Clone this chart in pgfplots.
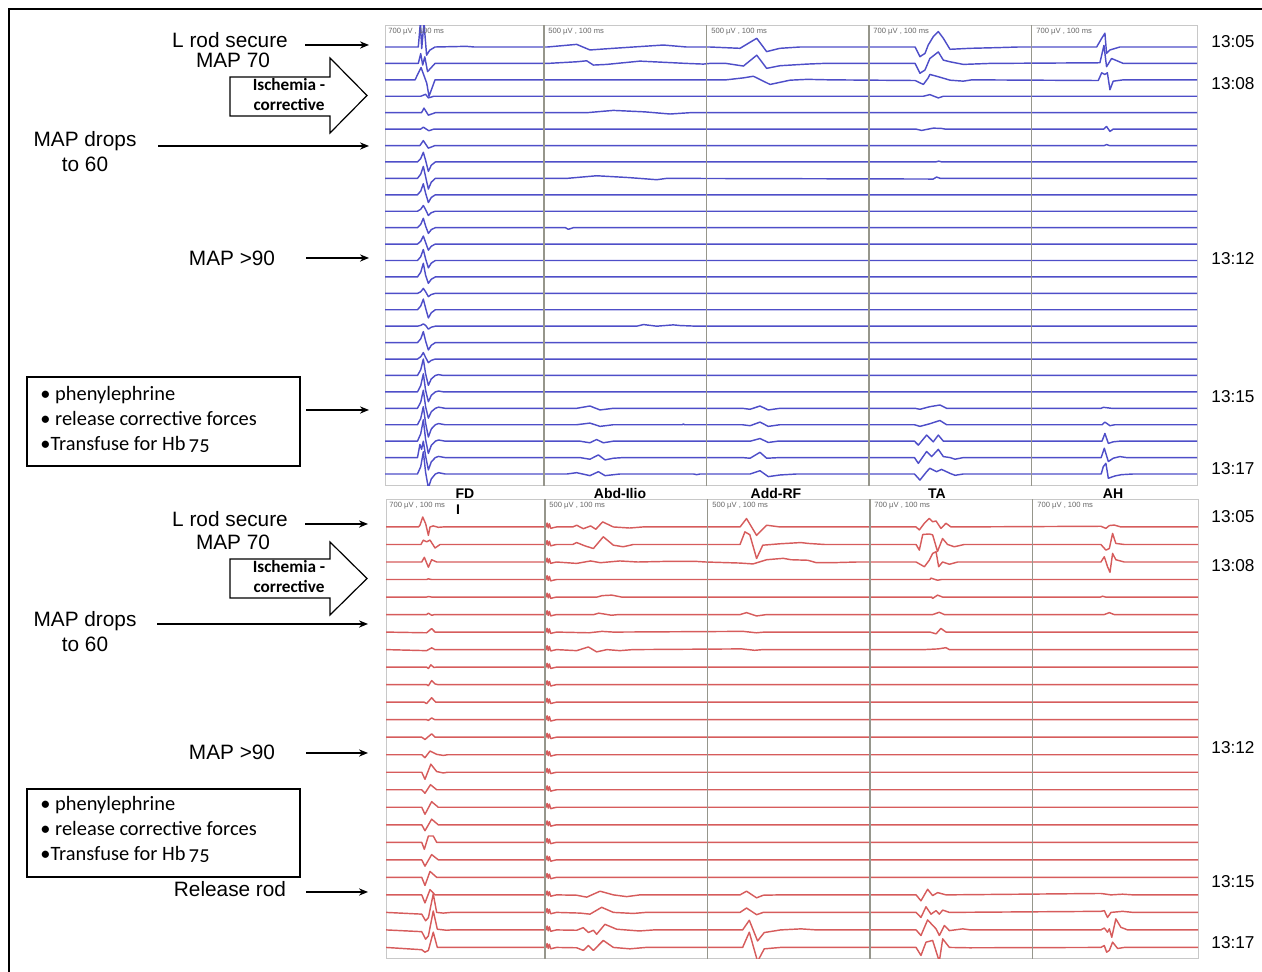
\documentclass[border=0pt]{standalone}
\usepackage{pgfplots}
\pgfplotsset{compat=1.18}
\usetikzlibrary{arrows.meta}
\usepackage{fontspec}
\setmainfont{Liberation Sans}
\newfontfamily\cali{Carlito}
\definecolor{tblue}{RGB}{78,78,200}
\definecolor{tred}{RGB}{214,92,92}
\definecolor{divg}{RGB}{150,150,140}
\definecolor{boxg}{RGB}{200,200,200}
\tikzset{
  bt/.style={line width=0.72pt, draw=tblue, line join=round, line cap=round},
  rt/.style={line width=0.72pt, draw=tred, line join=round, line cap=round},
  dv/.style={line width=0.8pt, draw=divg},
  ar/.style={line width=0.65pt, -{Stealth[length=4.5pt,width=3.6pt]}},
}
\pgfplotsset{panel/.style={scale only axis, anchor=north west, width=406pt, height=230pt,
  xmin=0, xmax=5, xtick=\empty, ytick=\empty, axis line style={draw=boxg, line width=0.5pt}}}
\begin{document}
\begin{tikzpicture}
% ================= TOP PANEL (blue) =================
\begin{axis}[panel, at={(192.5pt,473pt)}, ymin=-26.73, ymax=1.28]
\addplot[bt] coordinates {(0,0) (0.205,0) (0.218,1.5) (0.226,-0.1) (0.24,1.5) (0.256,-0.5) (0.275,-0.2) (0.308,0) (0.5,0.04) (0.55,0)
 (1.0,0) (1.18,0.16) (1.262,-0.18) (1.406,-0.08) (1.714,0.12) (1.857,0) (2.0,0)
 (2.186,-0.08) (2.289,0.53) (2.35,-0.28) (2.432,-0.08) (2.555,0)
 (3.264,0) (3.294,-0.59) (3.325,-0.39) (3.345,0.12) (3.376,0.63) (3.407,0.94) (3.438,0.53) (3.479,-0.14) (3.602,-0.08) (3.766,-0.04) (3.9,0)
 (4.382,0) (4.413,0.53) (4.433,0.84) (4.443,-0.39) (4.464,-0.18) (4.525,0) (5,0)};
\addplot[bt] coordinates {(0,-1) (0.205,-1) (0.22,-0.4) (0.232,-1.1) (0.245,-0.6) (0.262,-1.5) (0.308,-1)
 (1.0,-1) (1.18,-0.9) (1.242,-0.84) (1.283,-1.1) (1.365,-1.06) (1.57,-0.86) (1.857,-1) (1.96,-1.04) (2.0,-1)
 (2.1,-1) (2.207,-1.16) (2.289,-0.5) (2.35,-1.3) (2.432,-1.14) (2.6,-1.04) (2.7,-1)
 (3.264,-1) (3.294,-1.6) (3.325,-1.4) (3.355,-0.7) (3.407,-0.3) (3.438,-0.8) (3.479,-0.9) (3.561,-1.06) (3.725,-1)
 (4.402,-0.96) (4.427,0.1) (4.443,-1.2) (4.474,-0.7) (4.546,-1) (5,-1)};
\addplot[bt] coordinates {(0,-2) (0.185,-2) (0.222,-1.25) (0.257,-2.2) (0.271,-3.0) (0.308,-2)
 (2.1,-2) (2.207,-1.88) (2.268,-1.78) (2.371,-2.28) (2.494,-2.02) (2.6,-1.97) (2.74,-2)
 (3.264,-2.04) (3.315,-2.28) (3.345,-1.88) (3.355,-1.67) (3.396,-1.78) (3.438,-1.9) (3.479,-2.02) (3.561,-2.08) (3.613,-2)
 (4.392,-2.04) (4.413,-1.57) (4.433,-1.67) (4.448,-1.57) (4.464,-2.6) (4.484,-2.08) (4.546,-2) (5,-2)};
\addplot[bt] coordinates {(0,-3) (0.22,-3) (0.25,-2.88) (0.267,-3.1) (0.3,-3) (3.315,-3) (3.355,-2.9) (3.407,-3.1) (3.438,-3) (5,-3)};
\addplot[bt] coordinates {(0,-4) (0.225,-4) (0.24,-3.72) (0.267,-4.15) (0.31,-4) (1.242,-4) (1.406,-3.86) (1.6,-3.95) (1.755,-4.08) (1.878,-4) (5,-4)};
\addplot[bt] coordinates {(0,-5) (0.22,-5) (0.236,-4.88) (0.27,-5.1) (0.3,-5) (3.27,-5) (3.304,-5.08) (3.376,-4.94) (3.427,-4.96) (3.45,-5)
 (4.425,-5) (4.443,-4.84) (4.464,-5.14) (4.484,-5) (5,-5)};
\addplot[bt] coordinates {(0,-6) (0.215,-6) (0.236,-5.7) (0.267,-6.16) (0.308,-6) (4.43,-6) (4.443,-5.94) (4.46,-6) (5,-6)};
\addplot[bt] coordinates {(0,-7) (0.2,-7) (0.22,-6.79) (0.236,-6.41) (0.25,-6.9) (0.267,-7.57) (0.285,-7.2) (0.31,-7) (3.39,-7) (3.41,-6.95) (3.43,-7) (5,-7)};
\addplot[bt] coordinates {(0,-8) (0.2,-8) (0.22,-7.74) (0.236,-7.27) (0.25,-7.9) (0.267,-8.65) (0.285,-8.23) (0.31,-8)
 (1.119,-8) (1.303,-7.84) (1.5,-7.95) (1.673,-8.08) (1.734,-8) (3.376,-8.04) (3.396,-7.92) (3.42,-8) (5,-8)};
\addplot[bt] coordinates {(0,-9) (0.2,-9) (0.22,-8.77) (0.236,-8.33) (0.25,-8.9) (0.267,-9.47) (0.285,-9.16) (0.31,-9) (5,-9)};
\addplot[bt] coordinates {(0,-10) (0.2,-10) (0.22,-9.88) (0.236,-9.65) (0.25,-9.9) (0.267,-10.26) (0.285,-10.09) (0.31,-10) (5,-10)};
\addplot[bt] coordinates {(0,-11) (0.2,-11) (0.22,-10.8) (0.236,-10.43) (0.25,-10.9) (0.267,-11.35) (0.285,-11.12) (0.31,-11) (1.11,-11) (1.129,-11.1) (1.16,-11) (5,-11)};
\addplot[bt] coordinates {(0,-12) (0.2,-12) (0.22,-11.83) (0.236,-11.51) (0.25,-11.9) (0.267,-12.37) (0.285,-12.13) (0.31,-12) (5,-12)};
\addplot[bt] coordinates {(0,-13) (0.2,-13) (0.22,-12.77) (0.236,-12.33) (0.25,-12.9) (0.267,-13.45) (0.285,-13.16) (0.31,-13) (5,-13)};
\addplot[bt] coordinates {(0,-14) (0.2,-14) (0.22,-13.71) (0.236,-13.17) (0.25,-13.9) (0.267,-14.39) (0.285,-14.14) (0.31,-14) (5,-14)};
\addplot[bt] coordinates {(0,-15) (0.2,-15) (0.22,-14.9) (0.236,-14.7) (0.25,-14.9) (0.267,-15.2) (0.285,-15.07) (0.31,-15) (5,-15)};
\addplot[bt] coordinates {(0,-16) (0.2,-16) (0.22,-15.77) (0.236,-15.35) (0.25,-15.9) (0.267,-16.5) (0.285,-16.18) (0.31,-16) (5,-16)};
\addplot[bt] coordinates {(0,-17) (0.2,-17) (0.22,-16.95) (0.236,-16.86) (0.25,-16.95) (0.267,-17.18) (0.285,-17.06) (0.31,-17)
 (1.55,-17) (1.591,-16.9) (1.673,-17) (1.775,-16.92) (1.816,-16.96) (1.919,-17) (5,-17)};
\addplot[bt] coordinates {(0,-18) (0.2,-18) (0.22,-17.77) (0.236,-17.33) (0.25,-17.9) (0.267,-18.45) (0.285,-18.16) (0.31,-18) (5,-18)};
\addplot[bt] coordinates {(0,-19) (0.2,-19) (0.22,-18.86) (0.236,-18.61) (0.25,-18.9) (0.267,-19.22) (0.285,-19.08) (0.31,-19) (5,-19)};
\addplot[bt] coordinates {(0,-20) (0.2,-20) (0.22,-19.65) (0.236,-19.0) (0.25,-19.9) (0.267,-20.6) (0.285,-20.21) (0.31,-20) (0.33,-19.95) (0.36,-20) (5,-20)};
\addplot[bt] coordinates {(0,-21) (0.2,-21) (0.22,-20.62) (0.236,-19.9) (0.25,-20.9) (0.267,-21.6) (0.285,-21.21) (0.31,-21) (0.33,-20.95) (0.36,-21) (5,-21)};
\addplot[bt] coordinates {(0,-22) (0.2,-22) (0.22,-21.62) (0.236,-20.9) (0.25,-21.9) (0.267,-22.6) (0.285,-22.21) (0.31,-22) (0.33,-21.93) (0.37,-22)
 (1.18,-22) (1.262,-21.86) (1.324,-22.1) (1.406,-22) (2.2,-22) (2.248,-22.06) (2.309,-21.86) (2.36,-22.1) (2.432,-22)
 (3.264,-22) (3.294,-22.06) (3.355,-21.9) (3.417,-21.8) (3.458,-22) (4.41,-22) (4.423,-21.94) (4.474,-22) (5,-22)};
\addplot[bt] coordinates {(0,-23) (0.2,-23) (0.22,-22.62) (0.236,-21.9) (0.25,-22.9) (0.267,-23.75) (0.285,-23.26) (0.31,-23) (0.33,-22.93) (0.37,-23)
 (1.18,-23) (1.262,-22.9) (1.324,-23.1) (1.406,-23) (1.83,-23) (1.837,-22.96) (1.845,-23)
 (2.2,-23) (2.248,-23.06) (2.309,-22.84) (2.36,-23.1) (2.432,-23)
 (3.26,-23) (3.294,-23.1) (3.355,-22.94) (3.417,-22.74) (3.458,-23) (4.415,-23) (4.433,-22.84) (4.464,-23.06) (4.494,-23) (5,-23)};
\addplot[bt] coordinates {(0,-24) (0.2,-24) (0.22,-23.55) (0.236,-22.7) (0.25,-23.9) (0.267,-24.75) (0.285,-24.26) (0.31,-24) (0.33,-23.93) (0.37,-24)
 (1.2,-24) (1.262,-24.1) (1.303,-23.9) (1.344,-24.1) (1.406,-24) (2.25,-24) (2.309,-23.84) (2.36,-24.08) (2.42,-24)
 (3.26,-24) (3.284,-24.24) (3.335,-23.63) (3.376,-24.04) (3.407,-23.63) (3.438,-24) (3.499,-24)
 (4.415,-24) (4.433,-23.53) (4.454,-24.14) (4.484,-24.04) (4.525,-24) (5,-24)};
\addplot[bt] coordinates {(0,-25) (0.2,-25) (0.215,-24.2) (0.225,-24.5) (0.236,-24.0) (0.25,-24.9) (0.267,-25.75) (0.285,-25.26) (0.31,-25) (0.33,-24.93) (0.37,-25)
 (1.2,-25) (1.262,-25.1) (1.314,-24.84) (1.355,-25.14) (1.406,-25.04) (1.468,-25)
 (2.2,-25) (2.248,-25.04) (2.309,-24.68) (2.35,-25.04) (2.432,-25)
 (3.26,-25) (3.284,-25.35) (3.335,-24.63) (3.366,-24.94) (3.407,-24.5) (3.438,-24.94) (3.479,-25) (3.51,-25.1) (3.561,-25)
 (4.41,-25) (4.429,-24.43) (4.454,-25.24) (4.484,-25.04) (4.525,-24.94) (4.566,-25) (5,-25)};
\addplot[bt] coordinates {(0,-26) (0.2,-26) (0.22,-25.55) (0.236,-24.65) (0.25,-25.9) (0.267,-26.85) (0.285,-26.3) (0.31,-26) (0.33,-25.92) (0.37,-26)
 (1.12,-26) (1.18,-25.92) (1.262,-26.1) (1.314,-25.86) (1.355,-26.1) (1.447,-26) (1.9,-26) (1.919,-26.04) (1.94,-26)
 (2.2,-26) (2.248,-26) (2.309,-25.8) (2.36,-26.16) (2.432,-26.06) (2.535,-26)
 (3.26,-26) (3.294,-26.37) (3.335,-25.86) (3.355,-25.65) (3.396,-25.86) (3.427,-25.72) (3.479,-25.96) (3.51,-26.08) (3.561,-26)
 (4.41,-26) (4.423,-25.55) (4.439,-25.35) (4.454,-26.26) (4.494,-26.12) (4.535,-26.04) (4.607,-26) (5,-26)};
\addplot[dv] coordinates {(0.98,2) (0.98,-28)};
\addplot[dv] coordinates {(1.98,2) (1.98,-28)};
\addplot[dv] coordinates {(2.98,2) (2.98,-28)};
\addplot[dv] coordinates {(3.98,2) (3.98,-28)};
\end{axis}
% ================= BOTTOM PANEL (red) =================
\begin{axis}[panel, at={(193pt,236pt)}, height=229.5pt, ymin=-24.66, ymax=1.54]
\addplot[rt] coordinates {(0,0) (0.2,0) (0.209,0.1) (0.226,0.57) (0.244,0.19) (0.261,-0.48) (0.271,0) (0.291,0.06) (0.322,-0.02) (0.35,0)
 (0.985,0) (0.992,0.22) (0.999,-0.05) (1.006,0.18) (1.014,-0.08) (1.03,-0.04) (1.05,0)
 (1.15,0) (1.174,0.1) (1.215,-0.1) (1.26,0.06) (1.292,-0.13) (1.334,0.29) (1.4,0) (1.5,-0.06) (1.58,0)
 (2.15,0) (2.18,0) (2.22,0.48) (2.282,-0.48) (2.344,0.1) (2.426,0)
 (3.264,0) (3.284,-0.17) (3.315,0.21) (3.345,0.49) (3.366,0.3) (3.387,0.34) (3.417,-0.08) (3.448,0.21) (3.479,0)
 (4.402,0.04) (4.433,-0.08) (4.454,0.08) (4.484,0.11) (4.525,0) (5,0)};
\addplot[rt] coordinates {(0,-1) (0.215,-1) (0.23,-0.75) (0.25,-0.85) (0.271,-0.75) (0.302,-1.2) (0.333,-1)
 (0.985,-1) (0.992,-0.78) (0.999,-1.05) (1.006,-0.82) (1.014,-1.08) (1.03,-1.04) (1.05,-1)
 (1.15,-1) (1.174,-0.89) (1.225,-1.08) (1.277,-1.23) (1.338,-0.56) (1.4,-1.04) (1.461,-1.13) (1.523,-1)
 (2.15,-1) (2.18,-1) (2.21,-0.28) (2.24,-0.44) (2.282,-1.8) (2.32,-1.04) (2.426,-0.96) (2.555,-0.89) (2.6,-0.94) (2.7,-1)
 (3.264,-1) (3.284,-1.32) (3.305,-0.43) (3.345,-0.4) (3.366,-0.45) (3.396,-1.4) (3.427,-0.66) (3.458,-1) (3.499,-1.13) (3.561,-1)
 (4.402,-1) (4.433,-1.32) (4.454,-1.23) (4.474,-0.37) (4.494,-0.94) (4.546,-1) (5,-1)};
\addplot[rt] coordinates {(0,-2) (0.22,-2) (0.236,-1.73) (0.261,-2.3) (0.281,-1.87) (0.312,-2)
 (0.985,-2) (0.992,-1.78) (0.999,-2.05) (1.006,-1.82) (1.014,-2.08) (1.03,-2.04) (1.05,-2)
 (1.174,-2.08) (1.26,-1.94) (1.32,-2.04) (1.44,-1.94) (1.55,-2) (1.75,-1.96) (1.9,-1.96) (1.97,-2)
 (2.18,-2.06) (2.26,-2.11) (2.344,-1.87) (2.446,-1.79) (2.494,-1.87) (2.597,-1.9) (2.65,-2.04) (2.74,-2.04) (2.9,-2)
 (3.264,-2) (3.315,-2.27) (3.345,-1.9) (3.366,-1.51) (3.387,-1.41) (3.403,-2.27) (3.427,-2) (3.469,-2.13) (3.52,-2)
 (4.402,-2) (4.423,-1.7) (4.443,-2.27) (4.458,-2.59) (4.474,-1.51) (4.494,-1.87) (4.546,-2) (5,-2)};
\addplot[rt] coordinates {(0,-3) (0.25,-3) (0.261,-2.96) (0.28,-3)
 (0.985,-3) (0.992,-2.78) (0.999,-3.05) (1.006,-2.82) (1.014,-3.08) (1.03,-3.04) (1.05,-3)
 (3.35,-3) (3.355,-2.92) (3.396,-3.04) (3.42,-3) (5,-3)};
\addplot[rt] coordinates {(0,-4) (0.25,-4) (0.262,-3.97) (0.28,-4)
 (0.985,-4) (0.992,-3.78) (0.999,-4.05) (1.006,-3.82) (1.014,-4.08) (1.03,-4.04) (1.05,-4)
 (1.3,-4) (1.33,-3.92) (1.39,-3.89) (1.45,-4) (3.36,-4) (3.366,-4.08) (3.396,-3.89) (3.427,-4) (4.4,-4) (4.413,-3.95) (4.43,-4) (5,-4)};
\addplot[rt] coordinates {(0,-5) (0.25,-5) (0.261,-4.92) (0.281,-5.04) (0.3,-5)
 (0.985,-5) (0.992,-4.78) (0.999,-5.05) (1.006,-4.82) (1.014,-5.08) (1.03,-5.04) (1.05,-5)
 (1.28,-5) (1.31,-4.92) (1.39,-5.04) (1.43,-5) (2.18,-5) (2.22,-4.89) (2.282,-5.08) (2.344,-5)
 (3.366,-5) (3.407,-4.87) (3.438,-5) (4.423,-5) (4.454,-4.89) (4.484,-5) (5,-5)};
\addplot[rt] coordinates {(0,-6) (0.25,-6.04) (0.281,-5.8) (0.302,-6)
 (0.985,-6) (0.992,-5.78) (0.999,-6.05) (1.006,-5.82) (1.014,-6.08) (1.03,-6.04) (1.05,-6)
 (1.25,-6.04) (1.33,-5.96) (1.4,-6) (2.2,-5.96) (2.28,-6.04) (2.33,-6) (3.35,-6) (3.387,-6.1) (3.417,-5.79) (3.448,-6) (5,-6)};
\addplot[rt] coordinates {(0,-7) (0.25,-7.06) (0.281,-6.9) (0.302,-7)
 (0.985,-7) (0.992,-6.78) (0.999,-7.05) (1.006,-6.82) (1.014,-7.08) (1.03,-7.04) (1.05,-7)
 (1.174,-7.06) (1.246,-6.85) (1.297,-7.13) (1.36,-7) (1.44,-7.06) (1.52,-7) (2.19,-6.96) (2.27,-7.04) (2.32,-7)
 (3.315,-7) (3.4,-6.96) (3.448,-6.89) (3.469,-7) (5,-7)};
\addplot[rt] coordinates {(0,-8) (0.25,-8) (0.261,-8.08) (0.276,-7.87) (0.295,-8.02) (0.31,-8)
 (0.985,-8) (0.992,-7.78) (0.999,-8.05) (1.006,-7.82) (1.014,-8.08) (1.03,-8.04) (1.05,-8) (5,-8)};
\addplot[rt] coordinates {(0,-9) (0.25,-9) (0.261,-9.06) (0.281,-8.77) (0.302,-8.96) (0.32,-9)
 (0.985,-9) (0.992,-8.78) (0.999,-9.05) (1.006,-8.82) (1.014,-9.08) (1.03,-9.04) (1.05,-9) (5,-9)};
\addplot[rt] coordinates {(0,-10) (0.235,-10) (0.25,-10.08) (0.281,-9.75) (0.306,-10)
 (0.985,-10) (0.992,-9.78) (0.999,-10.05) (1.006,-9.82) (1.014,-10.08) (1.03,-10.04) (1.05,-10) (5,-10)};
\addplot[rt] coordinates {(0,-11) (0.25,-11) (0.261,-11.04) (0.281,-10.9) (0.3,-11)
 (0.985,-11) (0.992,-10.78) (0.999,-11.05) (1.006,-10.82) (1.014,-11.08) (1.03,-11.04) (1.05,-11) (5,-11)};
\addplot[rt] coordinates {(0,-12) (0.22,-12) (0.24,-12.13) (0.281,-11.81) (0.302,-12)
 (0.985,-12) (0.992,-11.78) (0.999,-12.05) (1.006,-11.82) (1.014,-12.08) (1.03,-12.04) (1.05,-12) (5,-12)};
\addplot[rt] coordinates {(0,-13) (0.22,-13) (0.24,-13.17) (0.271,-12.79) (0.312,-12.98) (0.353,-13.04) (0.38,-13)
 (0.985,-13) (0.992,-12.78) (0.999,-13.05) (1.006,-12.82) (1.014,-13.08) (1.03,-13.04) (1.05,-13) (5,-13)};
\addplot[rt] coordinates {(0,-14) (0.22,-14) (0.24,-14.4) (0.276,-13.54) (0.312,-13.96) (0.353,-14.04) (0.38,-14)
 (0.985,-14) (0.992,-13.78) (0.999,-14.05) (1.006,-13.82) (1.014,-14.08) (1.03,-14.04) (1.05,-14) (5,-14)};
\addplot[rt] coordinates {(0,-15) (0.22,-15) (0.24,-15.2) (0.274,-14.71) (0.312,-15)
 (0.985,-15) (0.992,-14.78) (0.999,-15.05) (1.006,-14.82) (1.014,-15.08) (1.03,-15.04) (1.05,-15) (5,-15)};
\addplot[rt] coordinates {(0,-16) (0.22,-16) (0.24,-16.4) (0.281,-15.68) (0.322,-16)
 (0.985,-16) (0.992,-15.78) (0.999,-16.05) (1.006,-15.82) (1.014,-16.08) (1.03,-16.04) (1.05,-16) (5,-16)};
\addplot[rt] coordinates {(0,-17) (0.22,-17) (0.24,-17.34) (0.281,-16.68) (0.322,-17)
 (0.985,-17) (0.992,-16.78) (0.999,-17.05) (1.006,-16.82) (1.014,-17.08) (1.03,-17.04) (1.05,-17) (5,-17)};
\addplot[rt] coordinates {(0,-18) (0.22,-18) (0.236,-18.4) (0.261,-17.64) (0.291,-17.64) (0.312,-18)
 (0.985,-18) (0.992,-17.78) (0.999,-18.05) (1.006,-17.82) (1.014,-18.08) (1.03,-18.04) (1.05,-18) (5,-18)};
\addplot[rt] coordinates {(0,-19) (0.22,-19) (0.24,-19.36) (0.281,-18.7) (0.322,-19)
 (0.985,-19) (0.992,-18.78) (0.999,-19.05) (1.006,-18.82) (1.014,-19.08) (1.03,-19.04) (1.05,-19) (5,-19)};
\addplot[rt] coordinates {(0,-20) (0.22,-20) (0.24,-20.46) (0.271,-19.66) (0.312,-20)
 (0.985,-20) (0.992,-19.78) (0.999,-20.05) (1.006,-19.82) (1.014,-20.08) (1.03,-20.04) (1.05,-20) (5,-20)};
\addplot[rt] coordinates {(0,-21) (0.22,-21) (0.24,-21.46) (0.271,-20.7) (0.302,-21)
 (0.985,-21) (0.992,-20.78) (0.999,-21.05) (1.006,-20.82) (1.014,-21.08) (1.03,-21.04) (1.05,-21)
 (1.174,-21.02) (1.236,-21.13) (1.318,-20.79) (1.4,-21) (1.482,-21.1) (1.564,-21)
 (2.18,-21) (2.22,-20.79) (2.282,-21.17) (2.323,-21.02) (2.426,-21)
 (3.264,-21) (3.294,-21.34) (3.335,-20.68) (3.366,-21.04) (3.397,-20.87) (3.448,-21)
 (4.402,-20.92) (4.464,-21) (4.535,-20.96) (4.6,-21) (5,-21)};
\addplot[rt] coordinates {(0,-22) (0.22,-22.1) (0.244,-22.48) (0.261,-22.3) (0.291,-20.95) (0.312,-22) (0.353,-22.04) (0.4,-22)
 (0.985,-22) (0.992,-21.78) (0.999,-22.05) (1.006,-21.82) (1.014,-22.08) (1.03,-22.04) (1.05,-22)
 (1.195,-22.04) (1.256,-22.1) (1.328,-21.71) (1.4,-22) (1.523,-22.06) (1.6,-22)
 (2.18,-22) (2.22,-21.75) (2.282,-22.13) (2.323,-22)
 (3.264,-22) (3.294,-22.29) (3.325,-21.68) (3.356,-22.1) (3.387,-21.9) (3.407,-22.1) (3.428,-21.87) (3.469,-22)
 (4.402,-21.94) (4.423,-21.9) (4.443,-22.29) (4.464,-22) (4.535,-21.94) (4.6,-22) (5,-22)};
\addplot[rt] coordinates {(0,-23) (0.22,-23.1) (0.244,-23.53) (0.261,-23.34) (0.291,-21.92) (0.316,-22.96) (0.374,-23.02) (0.4,-23)
 (0.985,-23) (0.992,-22.78) (0.999,-23.05) (1.006,-22.82) (1.014,-23.08) (1.03,-23.04) (1.05,-23)
 (1.174,-23.02) (1.215,-22.87) (1.246,-23.15) (1.277,-23.02) (1.297,-23.25) (1.348,-22.68) (1.42,-22.96) (1.56,-23.06) (1.65,-23)
 (2.196,-23) (2.237,-22.45) (2.288,-23.63) (2.329,-23.15) (2.43,-23) (2.555,-22.94) (2.65,-23)
 (3.264,-23) (3.294,-23.32) (3.335,-22.43) (3.387,-22.94) (3.407,-23.32) (3.438,-22.75) (3.469,-23.04) (3.551,-22.94) (3.6,-23)
 (4.402,-23) (4.423,-22.89) (4.443,-23.13) (4.454,-22.94) (4.469,-23.42) (4.494,-22.37) (4.525,-22.85) (4.566,-23) (5,-23)};
\addplot[rt] coordinates {(0,-24) (0.22,-24.13) (0.24,-24.27) (0.261,-24.17) (0.291,-23.13) (0.316,-24) (0.4,-24)
 (0.985,-24) (0.992,-23.78) (0.999,-24.05) (1.006,-23.82) (1.014,-24.08) (1.03,-24.04) (1.05,-24)
 (1.174,-24.02) (1.215,-24.17) (1.246,-23.89) (1.277,-24.17) (1.338,-23.6) (1.4,-24) (1.502,-24.08) (1.6,-24)
 (2.196,-24) (2.237,-23.13) (2.288,-24.8) (2.329,-24.08) (2.43,-24)
 (3.264,-24) (3.294,-24.46) (3.325,-23.7) (3.366,-23.6) (3.407,-24.8) (3.428,-23.51) (3.469,-24) (3.594,-24.02)
 (4.402,-24) (4.423,-23.89) (4.437,-24.27) (4.454,-24.17) (4.474,-23.7) (4.505,-24.06) (4.546,-24) (5,-24)};
\addplot[dv] coordinates {(0.98,2) (0.98,-26)};
\addplot[dv] coordinates {(1.98,2) (1.98,-26)};
\addplot[dv] coordinates {(2.98,2) (2.98,-26)};
\addplot[dv] coordinates {(3.98,2) (3.98,-26)};
\end{axis}
% ================= annotations (pixel coordinates) =================
\begin{scope}[x=0.5pt, y=-0.5pt, yshift=486pt]
\draw[line width=1pt] (9,972) -- (9,9) -- (1262,9);
% tiny scale labels
\foreach \xx/\tt in {388/700, 548/500, 711/500, 873/700, 1036/700}{
  \node[anchor=base west, inner sep=0, text=black!60, font=\fontsize{3.8}{4}\selectfont] at (\xx,34) {\tt\ µV , 100 ms};
  \node[anchor=base west, inner sep=0, text=black!60, font=\fontsize{3.8}{4}\selectfont] at (\xx+1,508) {\tt\ µV , 100 ms};
}
% column labels
\foreach \xx/\tt in {465/FD, 620/Abd-Ilio, 776/Add-RF, 937/TA, 1113/AH}{
  \node[anchor=base, inner sep=0, font=\bfseries\fontsize{7}{8}\selectfont] at (\xx,499) {\tt};
}
\node[anchor=base, inner sep=0, font=\bfseries\fontsize{7}{8}\selectfont] at (458,515) {I};
% times
\foreach \yy/\tt in {48/13:05, 90/13:08, 265/13:12, 403/13:15, 475/13:17, 523/13:05, 572/13:08, 754/13:12, 888/13:15, 949/13:17}{
  \node[anchor=base, inner sep=0, font=\fontsize{8.6}{9}\selectfont] at (1233,\yy) {\tt};
}
% ---- top annotations
\node[anchor=base, inner sep=0, font=\fontsize{10.4}{11}\selectfont] at (230,48) {L rod secure};
\node[anchor=base, inner sep=0, font=\fontsize{10.4}{11}\selectfont] at (233,68) {MAP 70};
\draw[ar] (305,45) -- (369,45);
\draw[line width=0.6pt, line join=miter] (230,77) -- (330,77) -- (330,58) -- (367,95.5) -- (330,133) -- (330,116) -- (230,116) -- cycle;
\node[anchor=base, inner sep=0, font=\cali\bfseries\fontsize{8.6}{9}\selectfont] at (289,91) {Ischemia -};
\node[anchor=base, inner sep=0, font=\cali\bfseries\fontsize{8.6}{9}\selectfont] at (289,111) {corrective};
\node[anchor=base, inner sep=0, font=\fontsize{10.4}{11}\selectfont] at (85,147) {MAP drops};
\node[anchor=base, inner sep=0, font=\fontsize{10.4}{11}\selectfont] at (85,172) {to 60};
\draw[ar] (158,146) -- (369,146);
\node[anchor=base, inner sep=0, font=\fontsize{10.4}{11}\selectfont] at (232,266) {MAP >90};
\draw[ar] (306,258) -- (369,258);
\draw[line width=1pt] (27,377) rectangle (300,466);
\node[anchor=base west, inner sep=0, font=\cali\fontsize{10.2}{11}\selectfont] at (40,401) {• phenylephrine};
\node[anchor=base west, inner sep=0, font=\cali\fontsize{10.2}{11}\selectfont] at (40,426) {• release corrective forces};
\node[anchor=base west, inner sep=0, font=\cali\fontsize{10.2}{11}\selectfont] at (40,451) {•Transfuse for Hb\,{\addfontfeatures{Numbers=OldStyle}75}};
\draw[ar] (306,410) -- (369,410);
% ---- bottom annotations
\node[anchor=base, inner sep=0, font=\fontsize{10.4}{11}\selectfont] at (230,527) {L rod secure};
\node[anchor=base, inner sep=0, font=\fontsize{10.4}{11}\selectfont] at (233,550) {MAP 70};
\draw[ar] (305,524) -- (368,524);
\draw[line width=0.6pt, line join=miter] (230,559) -- (330,559) -- (330,542) -- (367,578.5) -- (330,615) -- (330,598) -- (230,598) -- cycle;
\node[anchor=base, inner sep=0, font=\cali\bfseries\fontsize{8.6}{9}\selectfont] at (289,573) {Ischemia -};
\node[anchor=base, inner sep=0, font=\cali\bfseries\fontsize{8.6}{9}\selectfont] at (289,593) {corrective};
\node[anchor=base, inner sep=0, font=\fontsize{10.4}{11}\selectfont] at (85,627) {MAP drops};
\node[anchor=base, inner sep=0, font=\fontsize{10.4}{11}\selectfont] at (85,652) {to 60};
\draw[ar] (157,624) -- (368,624);
\node[anchor=base, inner sep=0, font=\fontsize{10.4}{11}\selectfont] at (232,760) {MAP >90};
\draw[ar] (306,753) -- (368,753);
\draw[line width=1pt] (27,789) rectangle (300,877);
\node[anchor=base west, inner sep=0, font=\cali\fontsize{10.2}{11}\selectfont] at (40,811) {• phenylephrine};
\node[anchor=base west, inner sep=0, font=\cali\fontsize{10.2}{11}\selectfont] at (40,836) {• release corrective forces};
\node[anchor=base west, inner sep=0, font=\cali\fontsize{10.2}{11}\selectfont] at (40,861) {•Transfuse for Hb\,{\addfontfeatures{Numbers=OldStyle}75}};
\node[anchor=base, inner sep=0, font=\fontsize{10.4}{11}\selectfont] at (230,897) {Release rod};
\draw[ar] (306,892) -- (368,892);
\end{scope}
\pgfresetboundingbox
\path[use as bounding box] (0,0) rectangle (631pt,486pt);
\end{tikzpicture}
\end{document}
